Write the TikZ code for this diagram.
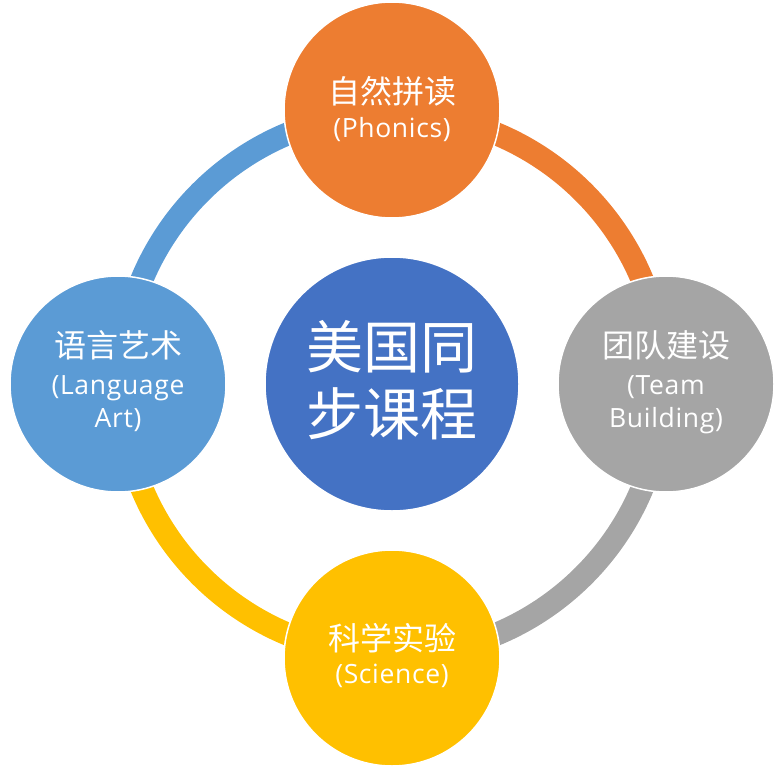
\documentclass[tikz,border=0pt]{standalone}
\usepackage{fontspec}
\setmainfont{Open Sans}[LetterSpace=2.5]
\newfontfamily\cjk{Noto Sans CJK SC}
\definecolor{cblue}{HTML}{4472C4}
\definecolor{corange}{HTML}{ED7D31}
\definecolor{cgray}{HTML}{A5A5A5}
\definecolor{cgold}{HTML}{FFC000}
\definecolor{clblue}{HTML}{5B9BD5}
\begin{document}
\begin{tikzpicture}[x=1pt,y=-1pt,
  ring/.style={line width=23pt},
  bub/.style={circle, draw=white, line width=1.5pt, inner sep=0pt, minimum size=216pt},
  hub/.style={circle, draw=white, line width=1.5pt, inner sep=0pt, minimum size=254pt},
  zh/.style={text=white, font=\cjk\fontsize{32}{32}\selectfont, anchor=base, inner sep=0pt},
  zhbig/.style={text=white, font=\cjk\fontsize{57}{57}\selectfont, anchor=base, inner sep=0pt},
  lat/.style={text=white, font=\fontsize{26.5}{26.5}\selectfont, anchor=base, inner sep=0pt}]
\useasboundingbox (0,0) rectangle (782,768);
\coordinate (o) at (392,384);
% ring
\draw[ring, corange] ([shift={(o)}]0:271) arc[start angle=0, end angle=-90, radius=271];
\draw[ring, cgray] ([shift={(o)}]0:271) arc[start angle=0, end angle=90, radius=271];
\draw[ring, cgold] ([shift={(o)}]90:271) arc[start angle=90, end angle=180, radius=271];
\draw[ring, clblue] ([shift={(o)}]180:271) arc[start angle=180, end angle=270, radius=271];
% circles
\node[hub, fill=cblue] (hubc) at (o) {};
\node[bub, fill=corange] (top) at (392,110) {};
\node[bub, fill=cgray] (right) at (666,384) {};
\node[bub, fill=cgold] (bottom) at (392,658) {};
\node[bub, fill=clblue] (left) at (118,384) {};
% texts
\node[zhbig] (h1) at (392,368) {美国同};
\node[zhbig] (h2) at (392,435) {步课程};
\node[zh] (t1) at (392,103) {自然拼读};
\node[lat] (t2) at (392,137) {(Phonics)};
\node[zh] (r1) at (666,357) {团队建设};
\node[lat] (r2) at (666,394) {(Team};
\node[lat] (r3) at (666,427) {Building)};
\node[zh] (b1) at (392,650) {科学实验};
\node[lat] (b2) at (392,683) {(Science)};
\node[zh] (l1) at (118,357) {语言艺术};
\node[lat] (l2) at (118,394) {(Language};
\node[lat] (l3) at (118,427) {Art)};
\end{tikzpicture}
\end{document}
